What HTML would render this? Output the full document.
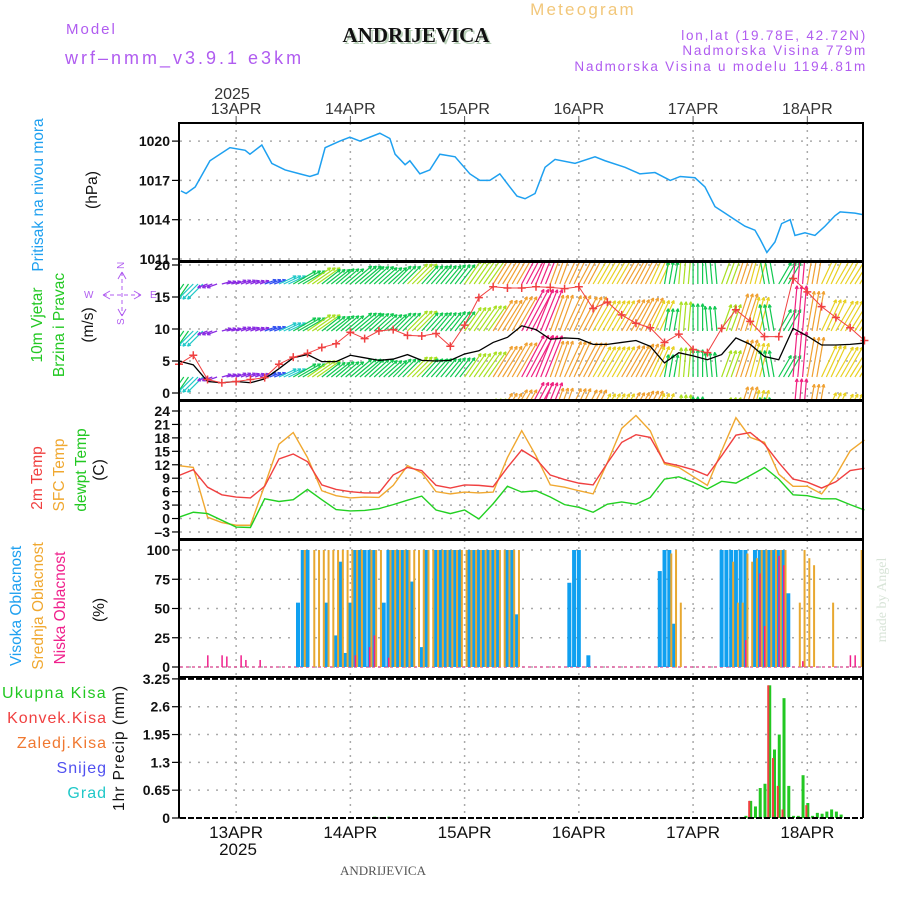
<!DOCTYPE html>
<html><head><meta charset="utf-8"><style>
body{margin:0;background:#fff;width:900px;height:900px;overflow:hidden}
svg{display:block}
text{font-family:"Liberation Sans Narrow","Liberation Sans",sans-serif}
</style></head><body>
<svg id="chart" width="900" height="900" viewBox="0 0 900 900" xmlns="http://www.w3.org/2000/svg">
<defs>
<clipPath id="cw"><rect x="180" y="263" width="683" height="136"/></clipPath>
</defs>
<g id="hdr">
<text x="583" y="15" font-size="17" fill="#f2c77a" text-anchor="middle" letter-spacing="2.2">Meteogram</text>
<text x="66" y="34" font-size="15" fill="#b05cf0" letter-spacing="2">Model</text>
<text x="65" y="64" font-size="18" fill="#b05cf0" letter-spacing="3">wrf–nmm_v3.9.1 e3km</text>
<text x="418" y="44" font-size="21" font-weight="bold" fill="#b8d0b8" text-anchor="middle" style="font-family:'Liberation Serif',serif">ANDRIJEVICA</text>
<text x="416" y="42" font-size="21" font-weight="bold" fill="#111" text-anchor="middle" style="font-family:'Liberation Serif',serif">ANDRIJEVICA</text>
<text x="867" y="40" font-size="13.5" fill="#b05cf0" text-anchor="end" letter-spacing="1.8">lon,lat (19.78E, 42.72N)</text>
<text x="867" y="55" font-size="13.5" fill="#b05cf0" text-anchor="end" letter-spacing="1.8">Nadmorska Visina 779m</text>
<text x="867" y="71" font-size="13.5" fill="#b05cf0" text-anchor="end" letter-spacing="1.8">Nadmorska Visina u modelu 1194.81m</text>
<text x="232" y="99" font-size="16" fill="#333" text-anchor="middle">2025</text>
<text x="383" y="875" font-size="13" fill="#555" text-anchor="middle" style="font-family:'Liberation Serif',serif">ANDRIJEVICA</text>
<text x="238" y="855" font-size="17" fill="#111" text-anchor="middle">2025</text>
<text transform="translate(886,600) rotate(-90)" font-size="14" fill="#d8e4d8" text-anchor="middle" style="font-family:'Liberation Serif',serif">made by Angel</text>
</g>
<g id="ylabels">
<text transform="translate(43,195) rotate(-90)" font-size="15.5" fill="#1ea0f0" text-anchor="middle">Pritisak na nivou mora</text>
<text transform="translate(97,190) rotate(-90)" font-size="15.5" fill="#111" text-anchor="middle">(hPa)</text>
<text transform="translate(42,325) rotate(-90)" font-size="15.5" fill="#22c822" text-anchor="middle">10m Vjetar</text>
<text transform="translate(64,325) rotate(-90)" font-size="15.5" fill="#22c822" text-anchor="middle">Brzina i Pravac</text>
<text transform="translate(93,325) rotate(-90)" font-size="15.5" fill="#111" text-anchor="middle">(m/s)</text>
<g fill="#b05cf0" stroke="#b05cf0" font-size="10">
<text x="84" y="298" stroke="none">W</text><text x="150" y="298" stroke="none">E</text>
<text x="119" y="268" stroke="none" transform="rotate(-90 122 266)">N</text>
<text x="119" y="324" stroke="none" transform="rotate(-90 122 322)">S</text>
<path d="M103,295 L110,291 M103,295 L110,299 M141,295 L134,291 M141,295 L134,299 M122,272 L118,279 M122,272 L126,279 M122,316 L118,309 M122,316 L126,309" fill="none"/>
<line x1="103" y1="295" x2="141" y2="295" stroke-dasharray="4,3"/><line x1="122" y1="272" x2="122" y2="316" stroke-dasharray="4,3"/>
</g>
<text transform="translate(42,478) rotate(-90)" font-size="15.5" fill="#f04040" text-anchor="middle">2m Temp</text>
<text transform="translate(64,475) rotate(-90)" font-size="15.5" fill="#f0a830" text-anchor="middle">SFC Temp</text>
<text transform="translate(86,470) rotate(-90)" font-size="15.5" fill="#22c822" text-anchor="middle">dewpt Temp</text>
<text transform="translate(104,470) rotate(-90)" font-size="15.5" fill="#111" text-anchor="middle">(C)</text>
<text transform="translate(21,606) rotate(-90)" font-size="15.5" fill="#1ea0f0" text-anchor="middle">Visoka Oblacnost</text>
<text transform="translate(43,606) rotate(-90)" font-size="15.5" fill="#f0a830" text-anchor="middle">Srednja Oblacnost</text>
<text transform="translate(65,608) rotate(-90)" font-size="15.5" fill="#f0208c" text-anchor="middle">Niska Oblacnost</text>
<text transform="translate(104,610) rotate(-90)" font-size="15.5" fill="#111" text-anchor="middle">(%)</text>
<text x="107" y="698" font-size="16" fill="#22c822" text-anchor="end" letter-spacing="1.3">Ukupna Kisa</text>
<text x="107" y="723" font-size="16" fill="#f04040" text-anchor="end" letter-spacing="1">Konvek.Kisa</text>
<text x="107" y="748" font-size="16" fill="#f07830" text-anchor="end" letter-spacing="1">Zaledj.Kisa</text>
<text x="107" y="773" font-size="16" fill="#5050f0" text-anchor="end" letter-spacing="1">Snijeg</text>
<text x="107" y="798" font-size="16" fill="#20c8c8" text-anchor="end" letter-spacing="1">Grad</text>
<text transform="translate(124,748) rotate(-90)" font-size="15.5" fill="#111" text-anchor="middle" letter-spacing="1">1hr Precip (mm)</text>
</g>
<g id="grid"></g>
<g id="marks"></g>
<g id="frames"></g>
</svg>
<script>
// ---------- data ----------
const dayLabels = ["13APR","14APR","15APR","16APR","17APR","18APR"];
const dayHours = [12,36,60,84,108,132];
const presTicks = [1011,1014,1017,1020];
const windTicks = [0,5,10,15,20];
const tempTicks = [-3,0,3,6,9,12,15,18,21,24];
const cloudTicks = [0,25,50,75,100];
const precipTicks = [0,0.65,1.3,1.95,2.6,3.25];
const precipTickLabels = ["0","0.65","1.3","1.95","2.6","3.25"];

const presHours = [0.4,1.5,3.4,6.5,10.7,13.9,14.9,17.4,19.5,22.3,25.4,27.5,29.2,30.7,33.8,35.9,38,42.2,44.3,45.4,47.5,48.5,50.6,52.7,54.8,58,61.1,63.2,65.3,67.4,69.5,71,72.7,74.8,76.9,79,83.2,87.4,89.5,93.7,96.8,100,103.2,105.3,108.4,110.5,112.6,114.7,116.8,118.9,121,122.1,123.5,125.2,126.6,128.4,129.4,131.5,133.6,135.7,137.8,138.9,142,143.5];
const presVals = [1016.2,1016,1016.5,1018.5,1019.5,1019.3,1019,1019.7,1018.3,1017.8,1017.5,1017.3,1017.5,1019.5,1020,1020.3,1020,1020.6,1020.2,1019,1018.2,1018.5,1017.5,1017.8,1019,1018.8,1017.5,1017,1017,1017.5,1016.5,1015.8,1015.6,1016,1018,1018.6,1018.3,1018.8,1018.5,1018,1017.5,1017.6,1017,1017.3,1017.2,1016.5,1015,1014.5,1014,1013.5,1013.2,1012.5,1011.5,1012.3,1013.7,1014,1012.8,1013,1012.8,1013.5,1014.3,1014.6,1014.5,1014.4];

const hours3 = [0,3,6,9,12,15,18,21,24,27,30,33,36,39,42,45,48,51,54,57,60,63,66,69,72,75,78,81,84,87,90,93,96,99,102,105,108,111,114,117,120,123,126,129,132,135,138,141,144];
const windSpd = [5.0,4.4,1.8,1.6,1.8,1.6,2.2,3.8,5.5,6.0,4.9,4.9,5.9,5.5,5.1,5.3,6.0,5.1,5.0,5.1,6.1,6.6,7.9,8.7,10.5,9.9,8.4,8.6,8.5,7.6,7.6,7.9,8.2,7.3,4.7,6.3,5.8,5.2,6.0,8.6,7.6,5.7,5.2,10.1,8.9,7.5,7.5,7.6,7.8];
const windGust = [4.5,5.9,2.1,1.6,1.8,2.1,2.4,4.5,5.6,6.2,7.1,7.7,9.5,8.5,9.7,9.9,9.0,8.9,9.3,7.3,10.6,14.9,16.6,16.4,16.4,16.6,16.5,16.3,16.6,13.2,14.2,12.2,10.9,10.2,7.9,9.2,6.8,6.3,10.1,13.0,11.2,8.8,8.8,17.9,15.8,13.5,11.8,10.2,8.2];
const windDir = [235,225,200,15,20,20,20,25,30,35,38,40,40,42,42,45,45,48,50,52,55,55,58,60,62,68,70,65,62,60,60,60,62,65,80,85,90,95,70,72,75,100,60,85,80,65,60,58,55];

const temp2m = [9.6,10.9,7.0,5.3,4.8,4.6,7.2,13.3,14.4,12.7,7.5,6.5,6.0,5.7,5.7,9.7,11.4,10.7,7.4,6.8,7.5,7.4,7.1,11.4,15.3,13.3,9.7,8.7,7.9,7.5,12.4,17.0,18.7,18.1,12.5,11.8,10.9,9.6,14.0,18.6,19.2,16.6,12.5,8.8,8.1,6.8,8.2,10.7,11.2];
const tempSfc = [11.8,11.4,0.3,-0.9,-1.5,-1.5,7.4,16.6,19.2,13.6,6.2,5.1,4.6,4.8,4.7,7.4,11.8,10.2,6.0,5.5,5.9,5.7,5.9,13.6,19.6,14.0,7.5,7.0,6.2,5.5,12.5,20.1,23.0,19.6,12.2,11.4,9.4,7.4,15.1,22.5,18.1,17.0,9.9,7.2,7.2,5.5,9.6,15.1,17.5];
const tempDew = [0.3,1.4,1.1,-0.4,-1.9,-2.0,4.4,3.8,4.2,6.5,4.2,2.0,1.7,1.8,2.2,3.1,4.1,5.0,1.9,1.1,1.9,-0.1,3.3,7.2,5.9,6.2,4.8,3.1,2.5,1.4,3.2,3.7,3.2,4.7,8.8,9.3,8.1,6.6,8.3,7.9,9.6,11.4,8.8,5.3,5.1,4.4,4.4,3.1,1.9];

const highHours = [25,26,27,31,33,34,35,36,37,38,39,40,41,43,44,45,46,47,48,49,51,52,54,55,56,57,58,59,61,62,63,64,65,66,67,69,70,71,82,83,84,86,101,102,103,104,114,115,116,117,118,119,121,122,123,124,125,126,127,128];
const highVals = [55,100,100,55,27,90,12,55,100,100,100,100,100,55,100,100,100,100,100,73,17,100,100,100,100,100,100,100,100,100,100,100,100,100,100,100,100,45,72,100,100,10,82,100,100,37,100,100,100,100,100,100,100,100,100,100,100,100,100,63];
const midHours = [26,28,29,30,31,32,33,34,35,36,37,38,40,41,42,44,45,46,47,48,49,50,51,52,53,54,55,56,57,58,59,60,61,62,63,64,65,66,67,68,69,70,71,103,104,105,116,117,118,119,120,121,122,123,124,125,126,127,130,131,132,133,137,143];
const midVals = [100,100,100,100,100,100,100,100,100,100,100,100,100,100,100,100,100,100,100,100,100,100,100,100,100,100,100,100,100,100,100,100,100,100,100,100,100,100,100,100,100,100,100,97,100,55,90,55,55,97,90,93,100,100,100,100,100,100,55,100,93,87,55,100];
const lowHours = [6,9,10,13,14,17,37,40,41,44,119,122,123,126,127,131,141,142];
const lowVals = [10,10,9,10,6,6,10,17,27,8,23,80,35,95,87,5,10,10];

const rainHours = [41,44,119,120,121,122,123,124,125,126,127,128,129,130,131,132,133,134,135,136,137,138,139];
const rainTotal = [0.03,0.03,0.05,0.4,0.27,0.7,0.8,3.1,1.6,1.95,2.8,0.75,0.05,0.05,1.0,0.35,0.05,0.12,0.1,0.15,0.2,0.15,0.08];
const convHours = [120,124,125,126,127,132];
const convVals = [0.4,3.1,1.4,0.75,0.2,0.3];

// ---------- scales ----------
const L=180,R=863;
const X=h=>179+h*4.76;
const yP=p=>259-(p-1011)*13.1;
const yW=v=>393-v*6.4;
const yT=t=>411+(24-t)*4.48;
const yC=c=>667-c*1.17;
const yR=r=>818-r*42.8;
const NS="http://www.w3.org/2000/svg";
function mk(tag,attrs,parent){const e=document.createElementNS(NS,tag);for(const k in attrs)e.setAttribute(k,attrs[k]);parent.appendChild(e);return e;}
const grid=document.getElementById('grid'),marks=document.getElementById('marks'),frames=document.getElementById('frames');
const panels=[{t:123,b:261},{t:262,b:400},{t:401,b:539},{t:540,b:677},{t:678,b:818}];

dayHours.forEach((h,i)=>{
  panels.forEach(p=>{
    const g=mk('line',{x1:X(h),x2:X(h),y1:p.t,y2:p.b,stroke:'#aaa','stroke-width':1.5,'stroke-dasharray':'2,5'},grid);
    
    
  });
  const t1=mk('text',{x:X(h),y:114,'font-size':16,fill:'#333','text-anchor':'middle'},grid);t1.textContent=dayLabels[i];
  
  
  const t2=mk('text',{x:X(h),y:838,'font-size':17,fill:'#111','text-anchor':'middle'},grid);t2.textContent=dayLabels[i];
  
  
  mk('line',{x1:X(h),x2:X(h),y1:116,y2:123,stroke:'#555'},grid);
});
function yaxis(ticks,labels,yf,name){
  ticks.forEach((v,i)=>{
    const y=yf(v);
    const gl=mk('line',{x1:L,x2:R,y1:y,y2:y,stroke:'#aaa','stroke-width':1.5,'stroke-dasharray':'2,7'},grid);
    
    
    mk('line',{x1:172,x2:180,y1:y,y2:y,stroke:'#000','stroke-width':1.2},grid);
    const t=mk('text',{x:170,y:y+5,'font-size':14,'font-weight':'bold',fill:'#111','text-anchor':'end',style:'font-family:"Liberation Sans",sans-serif'},grid);
    t.textContent=labels?labels[i]:String(v).replace('-','–');
    
    
  });
}
yaxis(presTicks,null,yP,'pressure');
yaxis(windTicks,null,yW,'wind');
yaxis(tempTicks,null,yT,'temp');
yaxis(cloudTicks,null,yC,'cloud');
yaxis(precipTicks,precipTickLabels,yR,'precip');

{const pl=mk('polyline',{points:presHours.map((h,i)=>X(h)+','+yP(presVals[i])).join(' '),fill:'none',stroke:'#1ea0f0','stroke-width':1.5},marks);

}

function spdColor(s){if(s<2)return'#8a2be2';if(s<3)return'#3050f0';if(s<4.5)return'#20c8c8';if(s<6)return'#10c850';if(s<7)return'#a8e020';if(s<7.8)return'#e8d020';if(s<9)return'#f0a030';return'#f02080';}
const wg=mk('g',{'clip-path':'url(#cw)'},marks);


[284,331,377,424].forEach(base=>{
  hours3.forEach((h,i)=>{
    const s=windSpd[i],a=windDir[i]*Math.PI/180,len=s*4.2+3,c=spdColor(s);
    for(let k=0;k<3;k++){
      const x0=X(h+k),x1=x0+Math.cos(a)*len,y1=base-Math.sin(a)*len;
      const g=mk('g',{stroke:c,'stroke-width':1.2},wg);
      mk('line',{x1:x0,y1:base,x2:x1,y2:y1},g);
      const ha=0.45,hl=3.5;
      mk('line',{x1:x1,y1:y1,x2:x1-Math.cos(a-ha)*hl,y2:y1+Math.sin(a-ha)*hl},g);
      mk('line',{x1:x1,y1:y1,x2:x1-Math.cos(a+ha)*hl,y2:y1+Math.sin(a+ha)*hl},g);
    }
  });
});
{const sp=mk('polyline',{points:hours3.map((h,i)=>X(h)+','+yW(windSpd[i])).join(' '),fill:'none',stroke:'#000','stroke-width':1.3,'clip-path':'url(#cw)'},marks);


const gl=mk('polyline',{points:hours3.map((h,i)=>X(h)+','+yW(windGust[i])).join(' '),fill:'none',stroke:'#f04040','stroke-width':1,'clip-path':'url(#cw)'},marks);


hours3.forEach((h,i)=>{const x=X(h),y=yW(windGust[i]);
  const p=mk('path',{d:`M${x-4},${y}H${x+4}M${x},${y-4}V${y+4}`,stroke:'#f04040','stroke-width':1.5},marks);
  
  
});}

[[tempSfc,'#f0a830','sfc-temp-line'],[temp2m,'#f04040','temp-2m-line'],[tempDew,'#22d022','dewpoint-line']].forEach(([arr,c,n])=>{
  const pl=mk('polyline',{points:hours3.map((h,i)=>X(h)+','+yT(arr[i])).join(' '),fill:'none',stroke:c,'stroke-width':1.4},marks);
  
  
});

mk('line',{x1:L,x2:R,y1:yC(0),y2:yC(0),stroke:'#e060a0','stroke-width':1.5,'stroke-dasharray':'3,3'},marks);
highHours.forEach((h,i)=>{const r=mk('rect',{x:X(h)-2,y:yC(highVals[i]),width:4,height:yC(0)-yC(highVals[i]),fill:'#10a0f0'},marks);
  
  });
midHours.forEach((h,i)=>{const r=mk('rect',{x:X(h)+1,y:yC(midVals[i]),width:2,height:yC(0)-yC(midVals[i]),fill:'#e8a830'},marks);
  
  });
lowHours.forEach((h,i)=>{const r=mk('rect',{x:X(h)-0.5,y:yC(lowVals[i]),width:1.5,height:yC(0)-yC(lowVals[i]),fill:'#f0208c'},marks);
  
  });

rainHours.forEach((h,i)=>{const r=mk('rect',{x:X(h)-1,y:yR(rainTotal[i]),width:3,height:yR(0)-yR(rainTotal[i]),fill:'#22c822'},marks);
  
  });
convHours.forEach((h,i)=>{const r=mk('rect',{x:X(h)-2,y:yR(convVals[i]),width:2,height:yR(0)-yR(convVals[i]),fill:'#f04040'},marks);
  
  });
[3.25,0].forEach(v=>mk('line',{x1:L,x2:R,y1:yR(v),y2:yR(v),stroke:'#000','stroke-width':2,'stroke-dasharray':'6,2'},frames));

panels.slice(0,4).forEach((p,i)=>{
  const r=mk('rect',{x:179,y:p.t,width:R-179,height:p.b-p.t,fill:'none',stroke:'#000','stroke-width':2},frames);
  
  
});
mk('line',{x1:179,x2:179,y1:678,y2:818,stroke:'#000','stroke-width':2},frames);
mk('line',{x1:R,x2:R,y1:678,y2:818,stroke:'#000','stroke-width':2},frames);
</script>
</body></html>
